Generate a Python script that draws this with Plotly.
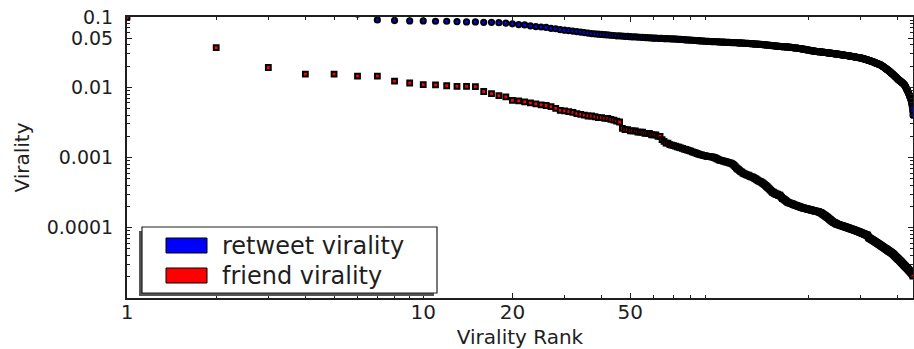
import math
import plotly.graph_objects as go

# ---------------- data ----------------
retweet_virality = [
    0.31, 0.22, 0.17, 0.14, 0.12, 0.11, 0.091, 0.089, 0.088, 0.088,
    0.087, 0.087, 0.086, 0.085, 0.085, 0.084, 0.084, 0.083, 0.082, 0.080,
    0.078, 0.077, 0.075, 0.073, 0.072, 0.071, 0.069, 0.068, 0.066, 0.065,
    0.064, 0.063, 0.062, 0.061, 0.060, 0.059, 0.058, 0.0575, 0.057, 0.0565,
    0.056, 0.0555, 0.055, 0.0545, 0.054, 0.054, 0.0535, 0.053, 0.053, 0.0525,
    0.0522, 0.052, 0.0518, 0.0515, 0.0512, 0.051, 0.0508, 0.0505, 0.0503, 0.050,
    0.0499, 0.0498, 0.0496, 0.0495, 0.0493, 0.0492, 0.0491, 0.049, 0.0488, 0.0487,
    0.0485, 0.0483, 0.0481, 0.048, 0.0478, 0.0476, 0.0474, 0.0472, 0.047, 0.0469,
    0.0467, 0.0465, 0.0463, 0.0461, 0.046, 0.0458, 0.0456, 0.0455, 0.0453, 0.0451,
    0.045, 0.0449, 0.0448, 0.0447, 0.0446, 0.0445, 0.0444, 0.0443, 0.0443, 0.0442,
    0.0441, 0.044, 0.0439, 0.0438, 0.0437, 0.0436, 0.0435, 0.0434, 0.0433, 0.0432,
    0.0431, 0.0431, 0.043, 0.043, 0.0429, 0.0429, 0.0428, 0.0427, 0.0426, 0.0425,
    0.0424, 0.0423, 0.0422, 0.0421, 0.042, 0.0419, 0.0418, 0.0417, 0.0416, 0.0415,
    0.0414, 0.0413, 0.0412, 0.0411, 0.041, 0.0409, 0.0408, 0.0407, 0.0406, 0.0405,
    0.0404, 0.0403, 0.0401, 0.04, 0.0399, 0.0398, 0.0396, 0.0395, 0.0394, 0.0393,
    0.0391, 0.039, 0.0389, 0.0388, 0.0386, 0.0385, 0.0384, 0.0383, 0.0382, 0.0381,
    0.038, 0.0379, 0.0378, 0.0377, 0.0377, 0.0376, 0.0376, 0.0375, 0.0375, 0.0374,
    0.0373, 0.0372, 0.0371, 0.037, 0.0369, 0.0368, 0.0367, 0.0366, 0.0364, 0.0363,
    0.0362, 0.0361, 0.036, 0.0359, 0.0357, 0.0356, 0.0355, 0.0354, 0.0352, 0.0351,
    0.035, 0.0349, 0.0347, 0.0346, 0.0345, 0.0343, 0.0342, 0.034, 0.0339, 0.0338,
    0.0336, 0.0335, 0.0334, 0.0332, 0.0331, 0.033, 0.0329, 0.0328, 0.0327, 0.0326,
    0.0325, 0.0324, 0.0323, 0.0322, 0.0322, 0.0321, 0.032, 0.032, 0.0319, 0.0318,
    0.0317, 0.0317, 0.0316, 0.0315, 0.0314, 0.0314, 0.0313, 0.0312, 0.0312, 0.0311,
    0.031, 0.0309, 0.0309, 0.0308, 0.0307, 0.0306, 0.0306, 0.0305, 0.0304, 0.0304,
    0.0303, 0.0302, 0.0301, 0.0301, 0.03, 0.0299, 0.0299, 0.0298, 0.0297, 0.0296,
    0.0296, 0.0295, 0.0294, 0.0293, 0.0293, 0.0292, 0.0291, 0.0291, 0.029, 0.0289,
    0.0288, 0.0288, 0.0287, 0.0286, 0.0285, 0.0285, 0.0284, 0.0283, 0.0283, 0.0282,
    0.0281, 0.028, 0.028, 0.0279, 0.0278, 0.0278, 0.0277, 0.0276, 0.0275, 0.0275,
    0.0274, 0.0273, 0.0272, 0.0272, 0.0271, 0.027, 0.0269, 0.0269, 0.0268, 0.0267,
    0.0266, 0.0266, 0.0265, 0.0264, 0.0264, 0.0263, 0.0263, 0.0262, 0.0262, 0.0261,
    0.026, 0.0259, 0.0258, 0.0257, 0.0256, 0.0255, 0.0254, 0.0253, 0.0252, 0.0251,
    0.025, 0.0249, 0.0248, 0.0247, 0.0246, 0.0245, 0.0244, 0.0243, 0.0242, 0.0241,
    0.024, 0.0239, 0.0238, 0.0236, 0.0235, 0.0234, 0.0233, 0.0232, 0.0231, 0.023,
    0.0229, 0.0228, 0.0226, 0.0225, 0.0224, 0.0223, 0.0222, 0.022, 0.0219, 0.0218,
    0.0217, 0.0216, 0.0215, 0.0214, 0.0213, 0.0212, 0.0211, 0.021, 0.0209, 0.0208,
    0.0206, 0.0205, 0.0203, 0.0202, 0.02, 0.0198, 0.0197, 0.0195, 0.0194, 0.0192,
    0.019, 0.0189, 0.0187, 0.0186, 0.0184, 0.0182, 0.0181, 0.0179, 0.0178, 0.0176,
    0.0175, 0.0173, 0.0172, 0.017, 0.0168, 0.0167, 0.0165, 0.0164, 0.0162, 0.016,
    0.0159, 0.0157, 0.0156, 0.0154, 0.0153, 0.0151, 0.015, 0.0148, 0.0147, 0.0145,
    0.0144, 0.0142, 0.0141, 0.0139, 0.0138, 0.0136, 0.0135, 0.0133, 0.0132, 0.013,
    0.0129, 0.0128, 0.0127, 0.0126, 0.0125, 0.0124, 0.0123, 0.0122, 0.0121, 0.012,
    0.0119, 0.0118, 0.0117, 0.0116, 0.0115, 0.0114, 0.0113, 0.0112, 0.0111, 0.011,
    0.0108, 0.0107, 0.0105, 0.0103, 0.0101, 0.0099, 0.0097, 0.0095, 0.0093, 0.0091,
    0.009, 0.0088, 0.0086, 0.0084, 0.0082, 0.008, 0.0078, 0.0076, 0.0074, 0.0072,
    0.0071, 0.0069, 0.0067, 0.0064, 0.0061, 0.0058, 0.0055, 0.0051, 0.0046, 0.004,
]

friend_virality = [
    0.1, 0.0367, 0.0191, 0.0154, 0.0154, 0.0144, 0.0144, 0.0122, 0.0115, 0.0109,
    0.0108, 0.0105, 0.0103, 0.0103, 0.0102, 0.0087, 0.0081, 0.0076, 0.0073, 0.0065,
    0.0064, 0.0062, 0.006, 0.0058, 0.0056, 0.0055, 0.0053, 0.005, 0.0047, 0.0046,
    0.0045, 0.0044, 0.0042, 0.0041, 0.004, 0.0039, 0.0039, 0.0038, 0.0037, 0.0037,
    0.0036, 0.0036, 0.0035, 0.0034, 0.0033, 0.0032, 0.0026, 0.0025, 0.0025, 0.0024,
    0.0024, 0.0024, 0.0023, 0.0023, 0.0023, 0.0022, 0.0022, 0.0022, 0.0021, 0.0021,
    0.0021, 0.002, 0.002, 0.0018, 0.0017, 0.0016, 0.0016, 0.00153, 0.0015, 0.00148,
    0.00145, 0.00142, 0.0014, 0.00137, 0.00135, 0.00132, 0.0013, 0.00127, 0.00125, 0.00123,
    0.0012, 0.00118, 0.00116, 0.00114, 0.00112, 0.0011, 0.00109, 0.00107, 0.00106, 0.00105,
    0.00104, 0.00103, 0.00103, 0.00102, 0.00101, 0.001, 0.00098, 0.00096, 0.00094, 0.00092,
    0.00091, 0.0009, 0.00089, 0.00088, 0.00087, 0.00086, 0.00085, 0.00084, 0.00083, 0.00082,
    0.0008, 0.00077, 0.00074, 0.00071, 0.00069, 0.00067, 0.00065, 0.00063, 0.00062, 0.0006,
    0.00059, 0.00058, 0.00057, 0.00056, 0.00056, 0.00055, 0.00054, 0.00053, 0.00053, 0.00052,
    0.00051, 0.0005, 0.00049, 0.00048, 0.00047, 0.00046, 0.000457, 0.00045, 0.00044, 0.00043,
    0.00042, 0.00041, 0.0004, 0.00039, 0.00038, 0.00037, 0.00036, 0.00035, 0.00034, 0.00033,
    0.00032, 0.00032, 0.00031, 0.00031, 0.0003, 0.0003, 0.0003, 0.00029, 0.00029, 0.00029,
    0.00028, 0.00027, 0.00026, 0.00026, 0.000254, 0.00025, 0.000245, 0.00024, 0.000235, 0.00023,
    0.000228, 0.000226, 0.000224, 0.000222, 0.00022, 0.000218, 0.000216, 0.000214, 0.000212, 0.00021,
    0.000208, 0.000206, 0.000205, 0.000203, 0.000201, 0.0002, 0.000198, 0.000197, 0.000195, 0.000194,
    0.000192, 0.000191, 0.00019, 0.000189, 0.000188, 0.000187, 0.000186, 0.000185, 0.000184, 0.000183,
    0.000182, 0.000181, 0.00018, 0.000179, 0.000178, 0.000177, 0.000176, 0.000175, 0.000174, 0.000173,
    0.000172, 0.000172, 0.000171, 0.000171, 0.00017, 0.000169, 0.000167, 0.000166, 0.000165, 0.000163,
    0.000161, 0.000159, 0.000157, 0.000155, 0.000153, 0.000151, 0.000149, 0.000147, 0.000145, 0.000143,
    0.000141, 0.000139, 0.000137, 0.000135, 0.000133, 0.000131, 0.000129, 0.000127, 0.000125, 0.000123,
    0.000122, 0.00012, 0.000119, 0.000118, 0.000117, 0.000116, 0.000115, 0.000114, 0.000113, 0.000112,
    1.114e-4, 1.108e-4, 1.102e-4, 1.096e-4, 1.09e-4, 1.084e-4, 1.078e-4, 1.072e-4, 1.067e-4, 1.061e-4,
    1.055e-4, 1.05e-4, 1.044e-4, 1.038e-4, 1.033e-4, 1.027e-4, 1.022e-4, 1.016e-4, 1.011e-4, 1.005e-4,
    1e-4, 9.95e-5, 9.89e-5, 9.84e-5, 9.79e-5, 9.73e-5, 9.68e-5, 9.63e-5, 9.58e-5, 9.53e-5,
    9.48e-5, 9.43e-5, 9.38e-5, 9.33e-5, 9.28e-5, 9.23e-5, 9.18e-5, 9.13e-5, 9.08e-5, 9.03e-5,
    8.98e-5, 8.93e-5, 8.88e-5, 8.83e-5, 8.78e-5, 8.73e-5, 8.68e-5, 8.63e-5, 8.58e-5, 8.53e-5,
    8.48e-5, 8.43e-5, 8.38e-5, 8.33e-5, 8.28e-5, 8.23e-5, 8.18e-5, 8.13e-5, 8.08e-5, 8.03e-5,
    7.98e-5, 7.94e-5, 7.9e-5, 7.86e-5, 7.84e-5, 7.82e-5, 7.6e-5, 7.4e-5, 7.25e-5, 7.15e-5,
    7.1e-5, 7.04e-5, 6.98e-5, 6.93e-5, 6.87e-5, 6.82e-5, 6.76e-5, 6.71e-5, 6.65e-5, 6.6e-5,
    6.55e-5, 6.5e-5, 6.44e-5, 6.39e-5, 6.34e-5, 6.29e-5, 6.24e-5, 6.19e-5, 6.14e-5, 6.09e-5,
    6.04e-5, 5.99e-5, 5.94e-5, 5.9e-5, 5.85e-5, 5.8e-5, 5.75e-5, 5.71e-5, 5.66e-5, 5.62e-5,
    5.57e-5, 5.53e-5, 5.48e-5, 5.44e-5, 5.4e-5, 5.35e-5, 5.31e-5, 5.27e-5, 5.22e-5, 5.18e-5,
    5.14e-5, 5.1e-5, 5.06e-5, 5.02e-5, 4.98e-5, 4.94e-5, 4.9e-5, 4.86e-5, 4.82e-5, 4.78e-5,
    4.74e-5, 4.7e-5, 4.67e-5, 4.63e-5, 4.59e-5, 4.56e-5, 4.52e-5, 4.49e-5, 4.45e-5, 4.42e-5,
    4.38e-5, 4.35e-5, 4.31e-5, 4.27e-5, 4.24e-5, 4.2e-5, 4.16e-5, 4.12e-5, 4.07e-5, 4.03e-5,
    3.98e-5, 3.94e-5, 3.9e-5, 3.86e-5, 3.82e-5, 3.78e-5, 3.74e-5, 3.7e-5, 3.66e-5, 3.62e-5,
    3.59e-5, 3.55e-5, 3.51e-5, 3.48e-5, 3.44e-5, 3.41e-5, 3.37e-5, 3.34e-5, 3.3e-5, 3.27e-5,
    3.23e-5, 3.2e-5, 3.17e-5, 3.13e-5, 3.1e-5, 3.07e-5, 3.04e-5, 3e-5, 2.97e-5, 2.94e-5,
    2.91e-5, 2.88e-5, 2.85e-5, 2.82e-5, 2.79e-5, 2.76e-5, 2.73e-5, 2.7e-5, 2.68e-5, 2.65e-5,
    2.62e-5, 2.59e-5, 2.57e-5, 2.54e-5, 2.51e-5, 2.49e-5, 2.46e-5, 2.44e-5, 2.41e-5, 2.39e-5,
    2.36e-5, 2.34e-5, 2.31e-5, 2.29e-5, 2.26e-5, 2.23e-5, 2.2e-5, 2.17e-5, 2.12e-5, 2.05e-5,
]

series_names = ["retweet virality", "friend virality"]

x_tick_vals = [1, 10, 20, 50]
x_tick_text = ["1", "10", "20", "50"]
x_minor_vals = [2, 3, 4, 5, 6, 7, 8, 9, 30, 40, 60, 70, 80, 90, 200, 300, 400]

y_tick_vals = [0.0001, 0.001, 0.01, 0.05, 0.1]
y_tick_text = ["0.0001", "0.001", "0.01", "0.05", "0.1"]
y_minor_vals = ([k * 1e-5 for k in range(2, 10)] + [k * 1e-4 for k in range(2, 10)]
                + [k * 1e-3 for k in range(2, 10)] + [0.02, 0.03, 0.04, 0.06, 0.07, 0.08, 0.09])

x_max_rank = 450
y_min, y_max = 1e-5, 0.1

# ---------------- figure ----------------
rank_rt = list(range(1, len(retweet_virality) + 1))
rank_fr = list(range(1, len(friend_virality) + 1))

W, H = 914, 349
ML, MR, MT, MB = 127, 1, 17, 51
PW, PH = W - ML - MR, H - MT - MB
INK = "#1e1e1e"
FONT = "DejaVu Sans"


def px(xp):
    return (xp - ML) / PW


def py(yp):
    return (H - MB - yp) / PH


fig = go.Figure()
fig.add_trace(go.Scatter(
    x=rank_rt, y=retweet_virality, mode="markers", name=series_names[0],
    marker=dict(symbol="circle", size=5.2, color="#0000ff",
                line=dict(color="black", width=2)),
))
fig.add_trace(go.Scatter(
    x=rank_fr, y=friend_virality, mode="markers", name=series_names[1],
    marker=dict(symbol="square", size=4.8, color="#ff0000",
                line=dict(color="black", width=2)),
))

axis_common = dict(
    showline=True, linecolor=INK, linewidth=2, mirror="allticks",
    ticks="inside", ticklen=5, tickwidth=1, tickcolor=INK,
    showgrid=False, zeroline=False,
)

fig.update_xaxes(
    type="log", range=[0, math.log10(x_max_rank)],
    tickmode="array", tickvals=x_tick_vals, ticktext=x_tick_text,
    tickfont=dict(family=FONT, size=20, color=INK),
    minor=dict(ticks="inside", ticklen=3, tickwidth=1, tickcolor=INK,
               tickmode="array", tickvals=x_minor_vals, showgrid=False),
    title=dict(text="Virality Rank", font=dict(family=FONT, size=20, color=INK), standoff=19),
    ticklabelstandoff=-5,
    **axis_common,
)
fig.update_yaxes(
    type="log", range=[math.log10(y_min), math.log10(y_max)],
    tickmode="array", tickvals=y_tick_vals, ticktext=y_tick_text,
    tickfont=dict(family=FONT, size=19, color=INK),
    minor=dict(ticks="inside", ticklen=3, tickwidth=1, tickcolor=INK,
               tickmode="array", tickvals=y_minor_vals, showgrid=False),
    title=dict(text="Virality", font=dict(family=FONT, size=20, color=INK), standoff=12),
    ticklabelstandoff=8,
    **axis_common,
)

# legend drawn as matplotlib-style box with shadow and colour patches
shapes = [
    dict(type="rect", xref="paper", yref="paper", x0=px(139), x1=px(434), y0=py(296), y1=py(231),
         fillcolor="#555555", line=dict(width=0), layer="above"),
    dict(type="rect", xref="paper", yref="paper", x0=px(142), x1=px(437), y0=py(293), y1=py(227),
         fillcolor="white", line=dict(color=INK, width=1.2), layer="above"),
    dict(type="rect", xref="paper", yref="paper", x0=px(166), x1=px(207), y0=py(253), y1=py(238),
         fillcolor="#0000ff", line=dict(color="black", width=1), layer="above"),
    dict(type="rect", xref="paper", yref="paper", x0=px(166), x1=px(207), y0=py(283), y1=py(268),
         fillcolor="#ff0000", line=dict(color="black", width=1), layer="above"),
]
annotations = [
    dict(text=series_names[0], xref="paper", yref="paper", x=px(220), y=py(245.5),
         xanchor="left", yanchor="middle", showarrow=False,
         font=dict(family=FONT, size=24, color=INK)),
    dict(text=series_names[1], xref="paper", yref="paper", x=px(220), y=py(276),
         xanchor="left", yanchor="middle", showarrow=False,
         font=dict(family=FONT, size=24, color=INK)),
]

fig.update_layout(
    width=W, height=H, margin=dict(l=ML, r=MR, t=MT, b=MB, autoexpand=False),
    plot_bgcolor="white", paper_bgcolor="white", showlegend=False,
    font=dict(family=FONT, size=20, color=INK),
    shapes=shapes, annotations=annotations,
)

fig.write_html("out.html")
